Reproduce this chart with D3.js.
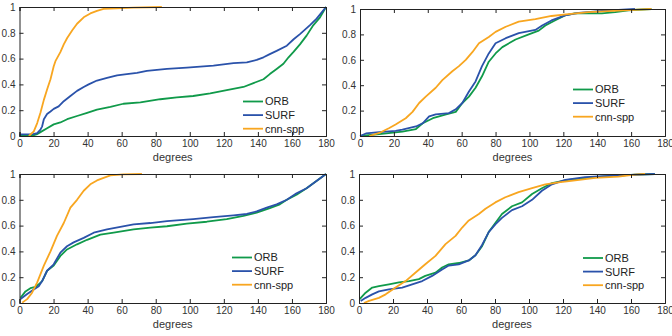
<!DOCTYPE html>
<html>
<head>
<meta charset="utf-8">
<script src="https://cdn.jsdelivr.net/npm/d3@7"></script>
<style>
  body { margin: 0; background: #fff; }
  svg { display: block; font-family: "Liberation Sans", Arial, sans-serif; }
</style>
</head>
<body>
<div id="chart"></div>
<script>
const seriesNames = ['ORB', 'SURF', 'cnn-spp'];
const xTicks = [0, 20, 40, 60, 80, 100, 120, 140, 160, 180];
const yTicks = [0, 0.2, 0.4, 0.6, 0.8, 1];
const yTickLabels = ['0', '0.2', '0.4', '0.6', '0.8', '1'];

// [degrees, cumulative fraction]
const p1Orb = [[0,0],[8,0.005],[10,0.012],[12.3,0.03],[16.2,0.06],[20.1,0.09],[24,0.105],[28,0.13],[33.8,0.155],[39.7,0.18],[45.5,0.205],[53.4,0.225],[61,0.25],[71,0.26],[82.7,0.285],[92.4,0.3],[102,0.31],[112,0.33],[121.7,0.355],[131.5,0.38],[137.4,0.41],[143.3,0.44],[147,0.48],[151,0.52],[155,0.56],[158,0.61],[160.8,0.65],[164.7,0.71],[168.7,0.78],[172.6,0.86],[176.5,0.92],[180,1]];
const p1Surf = [[0,0.013],[8,0.015],[10.4,0.023],[12.3,0.05],[13.3,0.075],[14.3,0.13],[16.2,0.17],[18.2,0.19],[20.1,0.21],[23,0.23],[26,0.27],[29.9,0.31],[33.8,0.35],[37.7,0.38],[40.6,0.4],[45.5,0.43],[51.4,0.45],[57.3,0.47],[63,0.48],[69,0.49],[74.8,0.505],[86.6,0.52],[98.3,0.53],[113.9,0.545],[125.7,0.565],[133.5,0.57],[139.3,0.59],[143.3,0.61],[147,0.635],[151,0.66],[157,0.7],[161,0.75],[164.7,0.79],[170.6,0.86],[174.5,0.91],[180,1]];
const p1Cnn = [[5.5,0],[8.4,0.036],[10.4,0.1],[12.3,0.18],[14.3,0.28],[16.2,0.36],[18.2,0.44],[20.1,0.54],[21.1,0.58],[24,0.65],[26,0.71],[28,0.76],[31,0.82],[33.8,0.87],[37.7,0.92],[41.6,0.95],[45.5,0.97],[49.4,0.985],[57,0.99],[67,0.995],[83.6,1]];

const p2Orb = [[0,0],[11.4,0.015],[25,0.035],[33,0.055],[37,0.1],[43,0.14],[50.8,0.17],[56.5,0.19],[60.4,0.26],[64.3,0.31],[68.2,0.38],[72,0.47],[76,0.585],[80,0.65],[84,0.7],[91.8,0.76],[99.6,0.8],[105.5,0.83],[109.4,0.87],[115,0.91],[121,0.95],[126.7,0.965],[142.7,0.965],[150.6,0.975],[158.4,0.99],[172,1]];
const p2Surf = [[0,0],[3.5,0.02],[11.4,0.03],[21,0.04],[25,0.05],[33,0.075],[37,0.1],[40.8,0.155],[44.7,0.17],[52.5,0.18],[56.5,0.21],[60.4,0.26],[64.3,0.35],[68.2,0.43],[72,0.55],[76,0.65],[80,0.73],[86,0.77],[93.7,0.81],[103.5,0.835],[107.5,0.87],[113,0.91],[121,0.95],[129,0.97],[142.7,0.985],[162.3,1]];
const p2Cnn = [[5.5,0],[11.4,0.024],[17.3,0.063],[21,0.09],[27,0.14],[31,0.19],[34.9,0.26],[38.8,0.31],[44.7,0.38],[48.6,0.44],[54.5,0.51],[58.4,0.55],[62.4,0.6],[66.3,0.66],[70.2,0.73],[76,0.78],[80,0.82],[86,0.86],[93.7,0.9],[103.5,0.92],[113,0.945],[123,0.96],[135,0.975],[152.5,0.987],[172,1]];

const p3Orb = [[0.6,0.04],[3.5,0.09],[6.4,0.115],[9.4,0.125],[11.3,0.145],[13.3,0.17],[16.2,0.25],[20.1,0.29],[24,0.365],[27.9,0.415],[33.8,0.455],[39.7,0.49],[47.5,0.53],[55.3,0.545],[67,0.57],[76.8,0.585],[86.6,0.595],[98.3,0.615],[110,0.63],[121.7,0.65],[131.5,0.675],[139.3,0.7],[147,0.735],[152.9,0.765],[157,0.8],[162.7,0.84],[168.6,0.89],[174.4,0.945],[180,1]];
const p3Surf = [[0.6,0.03],[4.5,0.07],[8.4,0.105],[11.3,0.13],[13.3,0.17],[16.2,0.25],[20.1,0.3],[24,0.39],[27.9,0.44],[31.8,0.47],[37.7,0.505],[43.6,0.545],[51.4,0.57],[59.2,0.59],[67,0.61],[76.8,0.62],[86.6,0.635],[102,0.65],[113.9,0.665],[125.7,0.68],[133.5,0.69],[139.3,0.71],[145.2,0.74],[151,0.765],[157,0.8],[162.7,0.85],[168.6,0.89],[174.4,0.945],[180,1]];
const p3Cnn = [[1.6,0.003],[4.5,0.03],[7.4,0.08],[10.4,0.16],[14.3,0.29],[18.2,0.4],[22,0.52],[26,0.62],[29.9,0.74],[33.8,0.8],[37.7,0.87],[41.6,0.92],[45.5,0.95],[49.4,0.97],[53.4,0.99],[61,0.997],[71.9,1]];

const p4Orb = [[0.4,0.03],[3.9,0.08],[7.8,0.12],[11.7,0.13],[17.6,0.145],[23.5,0.16],[29.4,0.17],[35.2,0.185],[39,0.21],[45,0.235],[48.9,0.275],[52.8,0.3],[58.7,0.31],[64.6,0.33],[68.5,0.37],[72.4,0.44],[76.3,0.55],[80.2,0.62],[84.1,0.69],[90,0.75],[95.9,0.78],[101.8,0.845],[107.6,0.89],[113.5,0.93],[123,0.955],[142.6,0.98],[162.4,0.995],[174,1]];
const p4Surf = [[1,0.016],[3.9,0.04],[7.8,0.067],[11.7,0.09],[17.6,0.106],[25.4,0.12],[31.3,0.145],[37.2,0.17],[43,0.21],[48.9,0.26],[52.8,0.29],[58.7,0.3],[64.6,0.33],[68.5,0.37],[72.4,0.45],[76.3,0.55],[80.2,0.61],[84.1,0.66],[90,0.72],[95.9,0.75],[101.8,0.8],[107.6,0.87],[113.5,0.92],[121.3,0.955],[133,0.975],[152.6,0.99],[174,1]];
const p4Cnn = [[2.9,0],[5.9,0.016],[11.7,0.04],[15.7,0.067],[21.5,0.12],[27.4,0.17],[33.3,0.236],[39,0.3],[45,0.365],[50.9,0.456],[56.8,0.52],[60.7,0.585],[64.6,0.64],[70.5,0.69],[74.4,0.73],[80.2,0.78],[86.1,0.82],[93.9,0.86],[101.8,0.89],[109.6,0.92],[117.4,0.935],[127.2,0.95],[139,0.97],[152.6,0.98],[162.4,0.995],[168.3,1]];

const colors = ['#109a4a', '#2a52aa', '#f8a620'];

const panels = [
  { x0: 19.5, x1: 326, y0: 7, y1: 136, series: [p1Orb, p1Surf, p1Cnn], legend: { x: 243, y: 101.5 } },
  { x0: 360, x1: 665, y0: 9, y1: 136, series: [p2Orb, p2Surf, p2Cnn], legend: { x: 573, y: 89.5 } },
  { x0: 19.5, x1: 326, y0: 174, y1: 303, series: [p3Orb, p3Surf, p3Cnn], legend: { x: 232, y: 257.5 } },
  { x0: 359, x1: 665, y0: 174, y1: 303, series: [p4Orb, p4Surf, p4Cnn], legend: { x: 583, y: 258 } }
];

const svg = d3.select('#chart').append('svg')
  .attr('width', 672)
  .attr('height', 336);

panels.forEach(p => {
  const x = d3.scaleLinear().domain([0, 180]).range([p.x0, p.x1]);
  const y = d3.scaleLinear().domain([0, 1]).range([p.y1, p.y0]);
  const g = svg.append('g');

  const line = d3.line()
    .x(d => x(d[0]))
    .y(d => y(d[1]));

  p.series.forEach((s, i) => {
    g.append('path')
      .datum(s)
      .attr('fill', 'none')
      .attr('stroke', colors[i])
      .attr('stroke-width', 1.8)
      .attr('stroke-linejoin', 'round')
      .attr('d', line);
  });

  // axes with inward ticks (box style)
  const bottom = g.append('g')
    .attr('transform', 'translate(0,' + p.y1 + ')')
    .call(d3.axisBottom(x).tickValues(xTicks).tickSize(-4).tickPadding(4).tickFormat(d3.format('d')));
  const top = g.append('g')
    .attr('transform', 'translate(0,' + p.y0 + ')')
    .call(d3.axisTop(x).tickValues(xTicks).tickSize(-4).tickFormat(''));
  const left = g.append('g')
    .attr('transform', 'translate(' + p.x0 + ',0)')
    .call(d3.axisLeft(y).tickValues(yTicks).tickSize(-4).tickPadding(4).tickFormat((d, i) => yTickLabels[i]));
  const right = g.append('g')
    .attr('transform', 'translate(' + p.x1 + ',0)')
    .call(d3.axisRight(y).tickValues(yTicks).tickSize(-4).tickFormat(''));

  [bottom, top, left, right].forEach(a => {
    a.select('.domain').attr('stroke', '#222').attr('stroke-width', 1);
    a.selectAll('.tick line').attr('stroke', '#222');
    a.selectAll('text')
      .attr('fill', '#333')
      .style('font-size', '10px')
      .style('font-family', '"Liberation Sans", Arial, sans-serif');
  });

  g.append('text')
    .attr('x', (p.x0 + p.x1) / 2)
    .attr('y', p.y1 + 25)
    .attr('text-anchor', 'middle')
    .attr('fill', '#333')
    .style('font-size', '11px')
    .text('degrees');

  // legend
  seriesNames.forEach((name, i) => {
    const ly = p.legend.y + i * 13.6;
    g.append('line')
      .attr('x1', p.legend.x)
      .attr('x2', p.legend.x + 20)
      .attr('y1', ly)
      .attr('y2', ly)
      .attr('stroke', colors[i])
      .attr('stroke-width', 1.8);
    g.append('text')
      .attr('x', p.legend.x + 22)
      .attr('y', ly)
      .attr('dy', '0.36em')
      .attr('fill', '#222')
      .style('font-size', '11px')
      .text(name);
  });
});
</script>
</body>
</html>
